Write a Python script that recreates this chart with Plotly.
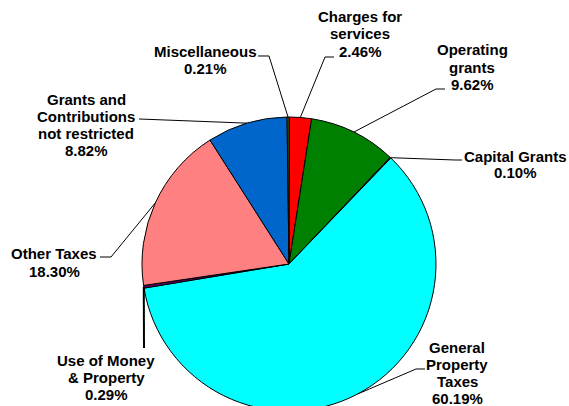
import numpy as np
import plotly.graph_objects as go

categories = [
    "Charges for services",
    "Operating grants",
    "Capital Grants",
    "General Property Taxes",
    "Use of Money & Property",
    "Other Taxes",
    "Grants and Contributions not restricted",
    "Miscellaneous",
]
shares = [2.46, 9.62, 0.10, 60.19, 0.29, 18.30, 8.82, 0.21]
colors = ["#FF0000", "#008000", "#993366", "#00FFFF", "#660066", "#FF8080", "#0066CC", "#666600"]

# label text lines, one list per slice (same order as categories)
label_lines = [
    ["Charges for", "services", "2.46%"],
    ["Operating", "grants", "9.62%"],
    ["Capital Grants", "0.10%"],
    ["General", "Property", "Taxes", "60.19%"],
    ["Use of Money", "& Property", "0.29%"],
    ["Other Taxes", "18.30%"],
    ["Grants and", "Contributions", "not restricted", "8.82%"],
    ["Miscellaneous", "0.21%"],
]

W, H = 569, 412
CX, CY, R = 289, 264, 147
LINE_H = 17

# label placement (pixel centre x, first line y) and leader elbows
label_pos = [(360, 17), (472, 50), (515, 156), (457, 347),
             (106, 360), (54, 254), (86, 99), (205, 51)]
elbows = [
    [(334, 57), (325, 57)],
    [(445, 89), (436, 89)],
    [(462, 160), (455, 160)],
    [(425, 369), (416, 369)],
    [(144, 348)],
    [(100, 257), (111, 257)],
    [(139, 119)],
    [(258, 56), (269, 56)],
]


def px(x):
    return x / W


def py(y):
    return 1 - y / H


fig = go.Figure(
    go.Pie(
        labels=categories,
        values=shares,
        sort=False,
        direction="clockwise",
        rotation=0,
        marker=dict(colors=colors, line=dict(color="black", width=1)),
        textinfo="none",
        hoverinfo="label+percent",
        showlegend=False,
        domain=dict(x=[px(CX - R), px(CX + R)], y=[py(CY + R), py(CY - R)]),
    )
)

frac = np.array(shares) / np.sum(shares)
mids = np.cumsum(frac) - frac / 2
shapes = []
annotations = []
for i, m in enumerate(mids):
    th = 2 * np.pi * m
    ex, ey = CX + R * np.sin(th), CY - R * np.cos(th)
    pts = elbows[i] + [(ex, ey)]
    path = "M " + " L ".join(f"{px(a):.5f},{py(b):.5f}" for a, b in pts)
    shapes.append(dict(type="path", path=path, xref="paper", yref="paper",
                       line=dict(color="black", width=2 if i == 4 else 1)))
    lx, ly = label_pos[i]
    for j, t in enumerate(label_lines[i]):
        annotations.append(dict(
            text=f"<b>{t}</b>", x=px(lx), y=py(ly + j * LINE_H),
            xref="paper", yref="paper", showarrow=False,
            xanchor="center", yanchor="middle",
            font=dict(family="Liberation Sans, Arial, sans-serif", size=15, color="black"),
        ))

fig.update_layout(
    width=W, height=H,
    margin=dict(l=0, r=0, t=0, b=0),
    paper_bgcolor="white", plot_bgcolor="white",
    shapes=shapes, annotations=annotations,
)

fig.write_html(
    "out.html",
    config={"displayModeBar": False},
    post_script="document.body.style.margin='0';document.body.style.overflow='hidden';",
)
